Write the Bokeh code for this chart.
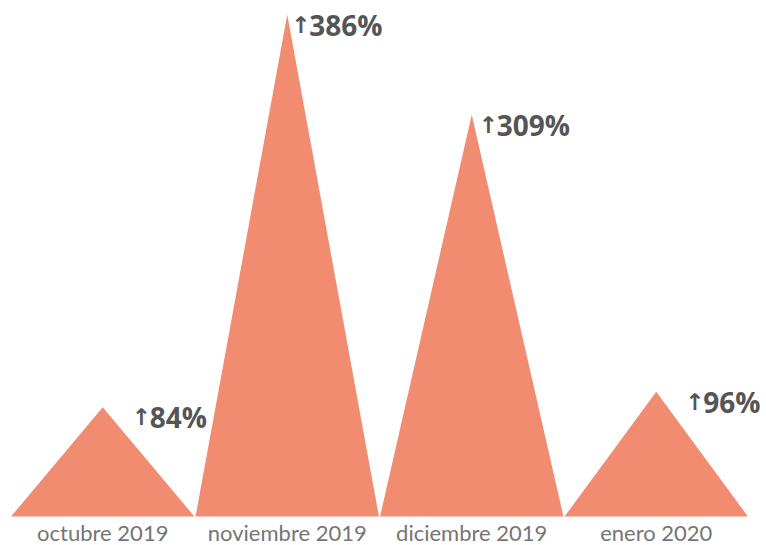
from bokeh.plotting import figure
from bokeh.models import ColumnDataSource, Range1d
from bokeh.core.properties import value
from bokeh.embed import file_html
from bokeh.resources import INLINE

# ---- data ----
months = ["octubre 2019", "noviembre 2019", "diciembre 2019", "enero 2020"]
growth = [84, 386, 309, 96]
growth_labels = ["84%", "386%", "309%", "96%"]

# ---- style ----
FILL = "#f28c71"
ARROW_DX = [29, 4, 7, 29]   # pixel offsets of the value labels from each apex
NUM_GAP = 18

W, H = 766, 545
BASE_PX = 516               # baseline row in pixels from the top
px_per_unit_x = 184.5
x0 = -10 / px_per_unit_x
x1 = x0 + W / px_per_unit_x
px_per_unit_y = 502 / 386.0
y_top = BASE_PX / px_per_unit_y
y_bot = -(H - BASE_PX) / px_per_unit_y

p = figure(width=W, height=H, output_backend="svg", toolbar_location=None,
           x_range=Range1d(x0, x1), y_range=Range1d(y_bot, y_top),
           min_border=0, min_border_left=0, min_border_right=0,
           min_border_top=0, min_border_bottom=0)
p.axis.visible = False
p.grid.visible = False
p.outline_line_color = None
p.background_fill_color = "white"
p.border_fill_color = "white"

xs = [[i + 0.003, i + 0.5, i + 0.997] for i in range(len(growth))]
ys = [[0, v, 0] for v in growth]
p.patches(xs, ys, fill_color=FILL, line_color=None)

centers = [i + 0.5 for i in range(len(growth))]
src = ColumnDataSource(dict(x=centers, y=growth, t=growth_labels,
                            adx=ARROW_DX, ndx=[d + NUM_GAP for d in ARROW_DX],
                            arr=["↑"] * len(growth)))
p.text(x="x", y="y", text="arr", x_offset="adx", y_offset=10, source=src,
       text_font=value("DejaVu Sans"), text_font_style="bold",
       text_font_size="23px", text_color="#555555",
       text_align="left", text_baseline="alphabetic")
p.text(x="x", y="y", text="t", x_offset="ndx", y_offset=10, source=src,
       text_font=value("Open Sans"), text_font_style="bold",
       text_font_size="28px", text_color="#555555",
       text_align="left", text_baseline="alphabetic")

src2 = ColumnDataSource(dict(x=centers, y=[0] * len(months), t=months))
p.text(x="x", y="y", text="t", y_offset=16, source=src2,
       text_font=value("Lato"), text_font_size="22px", text_color="#757575",
       text_align="center", text_baseline="alphabetic")

open("out.html", "w").write(file_html(p, INLINE))
